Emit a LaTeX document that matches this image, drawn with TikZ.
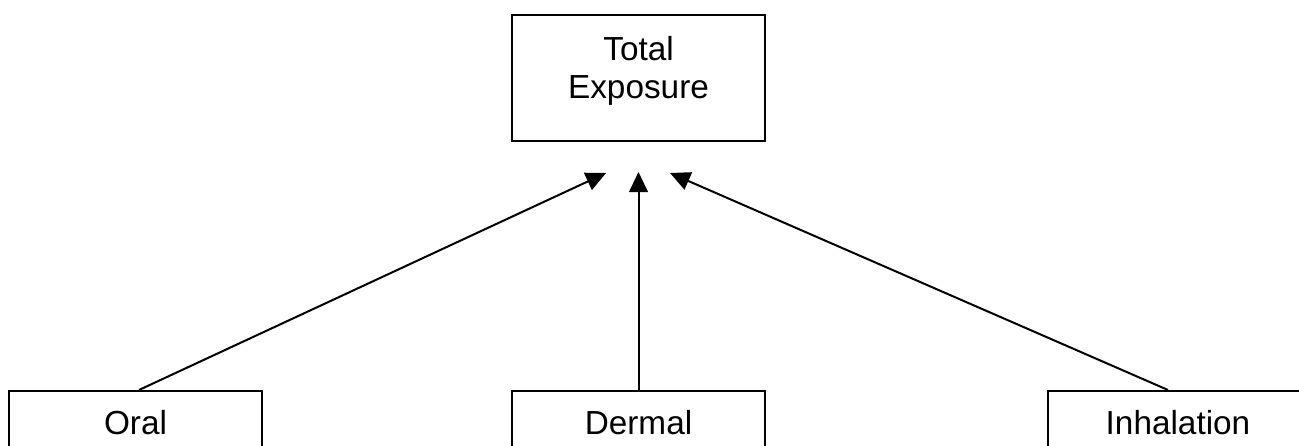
\documentclass[tikz,border=0pt]{standalone}
\usepackage{fontspec}
\setmainfont{Liberation Sans}
\usetikzlibrary{arrows.meta}
\begin{document}
\begin{tikzpicture}[
  x=0.75pt, y=-0.75pt,
  every node/.style={font=\fontsize{25}{29}\selectfont},
  box/.style={
    draw,
    line width=1.5pt,
    inner sep=0pt,
    minimum width=189.75pt
  },
  arrow/.style={-{Triangle[length=15pt,width=14pt]}, line width=1.5pt}
]
\useasboundingbox (0,0) rectangle (1299,446);
\node[box, minimum height=94.5pt,
  label={[name=totaltext, align=center, yshift=5.3pt]center:Total\\Exposure}] (total) at (638.5,78) {};
\node[box, minimum height=48pt] (oral) at (135.5,423) {Oral};
\node[box, minimum height=48pt] (dermal) at (638.5,423) {Dermal};
\node[box, minimum height=48pt, minimum width=195pt] (inhalation) at (1178,423) {Inhalation};
\coordinate (oraltip) at (606,173);
\coordinate (dermaltip) at (638.5,172);
\coordinate (inhalationtip) at (670,173);
\draw[arrow] ([xshift=2.6pt]oral.north) -- (oraltip);
\draw[arrow] (dermal.north) -- (dermaltip);
\draw[arrow] ([xshift=-7.5pt]inhalation.north) -- (inhalationtip);
\end{tikzpicture}
\end{document}
